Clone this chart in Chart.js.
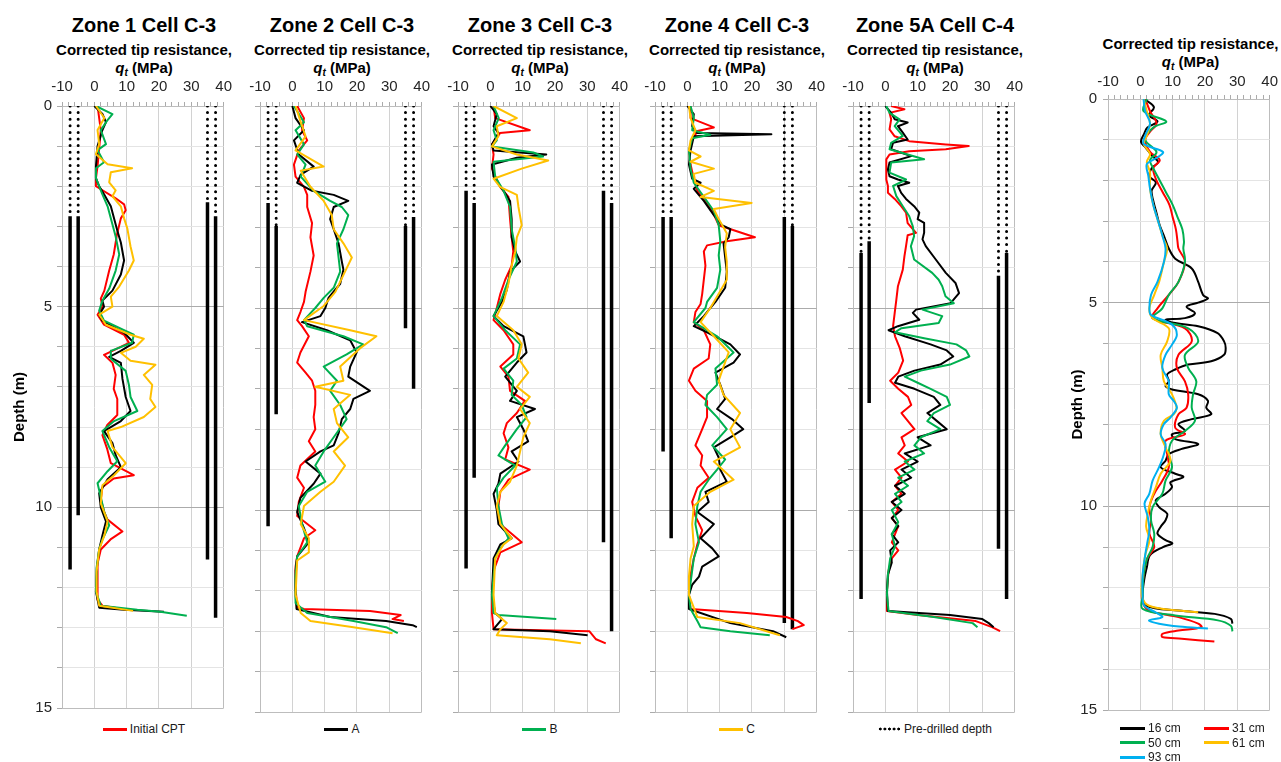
<!DOCTYPE html>
<html>
<head>
<meta charset="utf-8">
<title>CPT profiles</title>
<script src="https://cdn.jsdelivr.net/npm/chart.js@4.4.0/dist/chart.umd.min.js"></script>
<style>
  html, body { margin: 0; padding: 0; background: #fff; }
  body { font-family: "Liberation Sans", Arial, sans-serif; color: #000; }
  #page { position: relative; width: 1281px; height: 762px; overflow: hidden; background: #fff; }
  .abs { position: absolute; }
  .ttl { font-weight: bold; font-size: 20px; line-height: 24px; text-align: center; white-space: nowrap; }
  .axt { font-weight: bold; font-size: 15px; line-height: 18px; text-align: center; white-space: nowrap; }
  .axt sub { font-size: 10px; vertical-align: -3px; line-height: 0; }
  .leg { font-size: 12px; line-height: 14px; display: flex; justify-content: center; align-items: center; white-space: nowrap; color: #1a1a1a; }
  .sw { display: inline-block; width: 24px; height: 3px; margin-right: 3px; }
  .sw.dots { width: 23px; height: 4px; background: radial-gradient(circle, #000 1.3px, rgba(0,0,0,0) 1.7px) 0 0 / 4.6px 4px repeat-x; }
  .grid6 { display: grid; grid-template-columns: 84px 84px; row-gap: 0; font-size: 12px; line-height: 14.5px; color: #1a1a1a; }
  .grid6 span.it { display: flex; align-items: center; white-space: nowrap; }
  .grid6 .sw { width: 25px; margin-right: 3px; }
</style>
</head>
<body>
<div id="page"></div>
<script>
// ---------------- data: [depth (m), corrected tip resistance qt (MPa)] ----------------
const seriesNames = ['Initial CPT', 'A', 'B', 'C'];
const seriesColors = ['#FF0000', '#000000', '#00B050', '#FFC000'];
const zoneTitles = ['Zone 1 Cell C-3', 'Zone 2 Cell C-3', 'Zone 3 Cell C-3', 'Zone 4 Cell C-3', 'Zone 5A Cell C-4'];
const qtTicks = [-10, 0, 10, 20, 30, 40];
const depthTicks = [0, 5, 10, 15];

const z1Initial = [[0,1],[0.6,2],[1.5,1],[1.8,0.5],[2.0,0.5],[2.3,6.6],[2.45,9.2],[2.6,9.7],[2.8,8.2],[3.2,7],[3.7,6],[4.1,4.6],[4.6,3.1],[4.8,2],[5.0,2.5],[5.2,1],[5.45,3],[5.7,9.2],[5.9,10.7],[6.1,5.6],[6.2,3],[6.4,5.6],[6.7,6.6],[7.05,6],[7.3,7.1],[7.7,7.1],[7.95,4],[8.2,2.5],[8.55,4],[8.9,5.1],[9.2,12.2],[9.28,6],[9.5,2.5],[9.8,2],[10.1,3],[10.3,4],[10.6,8.7],[10.8,5],[11.05,2],[11.4,1],[11.9,1],[12.3,1],[12.45,2.5],[12.55,10.2]];
const z1A = [[0,0],[0.2,2.5],[0.4,3.6],[0.6,2.5],[1.0,1],[1.5,0.5],[1.8,0.5],[2.0,1.5],[2.2,3],[2.5,5.1],[3.1,7.1],[3.4,8.2],[3.85,9.2],[4.2,8.2],[4.6,5.6],[4.85,2.5],[5.0,3],[5.2,1.5],[5.35,2.5],[5.65,9.2],[5.9,12.2],[6.1,8.2],[6.25,4.6],[6.4,8.2],[6.8,8.7],[7.25,9.7],[7.6,11.2],[7.85,8.2],[8.1,3],[8.4,5.6],[8.7,6.6],[9.0,8.2],[9.3,4.1],[9.65,1.5],[10.0,2],[10.35,3.6],[10.7,2.5],[11.05,1.5],[11.5,0.8],[12.1,0.5],[12.5,1.5],[12.55,9.2],[12.6,21.5]];
const z1B = [[0,0.5],[0.2,5.6],[0.35,4.1],[0.6,2],[0.95,3.6],[1.1,1],[1.4,3],[1.55,0.5],[1.8,0.5],[2.2,2.5],[2.5,4.1],[3.25,6.6],[3.7,7.7],[4.1,6.6],[4.55,4.6],[4.85,2.5],[5.1,1.5],[5.35,3],[5.55,8.2],[5.7,12.2],[5.9,11.7],[6.1,5.1],[6.3,5.1],[6.6,9.7],[6.95,10.7],[7.25,11.2],[7.6,13.3],[7.85,6.1],[8.1,2.5],[8.5,4.6],[8.85,7.1],[9.1,4.1],[9.4,1],[9.75,2],[10.1,3],[10.45,4.6],[10.8,2.5],[11.05,1.5],[11.5,0.7],[12.1,0.5],[12.45,2],[12.55,13.3],[12.6,20.4],[12.7,28.6]];
const z1C = [[0,0.5],[0.3,3.1],[0.6,1],[0.95,1.5],[1.2,0.5],[1.45,4.1],[1.55,11.7],[1.65,5.1],[1.9,4.6],[2.1,6.6],[2.25,5.6],[2.5,8.2],[2.8,9.2],[3.05,10.2],[3.5,11.2],[3.85,12.2],[4.1,10.7],[4.5,7.7],[4.75,5.1],[5.0,5.6],[5.2,1.5],[5.45,3.6],[5.7,11.2],[5.8,15.3],[6.0,12.8],[6.15,8.2],[6.35,11.2],[6.45,18.9],[6.7,15.3],[6.95,17.9],[7.3,17.3],[7.5,18.9],[7.75,15.3],[8.0,8.2],[8.1,4.1],[8.5,5.6],[8.9,9.7],[9.2,6.1],[9.45,2.5],[9.9,2],[10.35,4.1],[10.7,3.1],[11.05,1.5],[11.6,0.7],[12.1,0.7],[12.45,1.5],[12.58,12]];

const z2Initial = [[0,1.5],[0.3,3.6],[0.6,3],[0.85,4.6],[1.1,2],[1.45,0.5],[1.75,1],[2.0,3.6],[2.2,4.6],[2.5,4.6],[2.9,6.1],[3.25,5.6],[3.7,6.6],[4.1,5.6],[4.6,4.1],[4.85,3.6],[5.1,2.5],[5.3,1.5],[5.45,3],[5.7,5.1],[6.1,2.5],[6.35,1.5],[6.6,4.1],[6.8,6.1],[7.05,7.1],[7.4,7.1],[7.7,6.6],[8.0,7.1],[8.3,5.1],[8.55,7.1],[8.9,2.5],[9.2,1.5],[9.45,3.6],[9.8,2],[10.15,1.5],[10.5,7.1],[10.7,3.6],[11.15,1.5],[11.4,1],[11.95,1],[12.4,1.5],[12.45,3.6],[12.5,24],[12.6,33.5],[12.7,31],[12.75,34.5]];
const z2A = [[0,0],[0.3,1],[0.6,3.6],[0.85,0.5],[1.2,2],[1.5,6.6],[1.7,2.6],[1.9,1.5],[2.1,6.1],[2.2,12.8],[2.35,17.3],[2.5,12.8],[2.8,11.7],[3.05,12.8],[3.4,14.3],[3.85,15.3],[4.05,15.8],[4.4,14.8],[4.75,11.2],[5.0,10.2],[5.2,8.7],[5.35,3],[5.55,10.7],[5.8,17.9],[6.1,19.9],[6.45,17.9],[6.7,17.3],[7.05,24],[7.25,18.9],[7.5,17.9],[7.75,15.3],[8.1,14.3],[8.4,12.8],[8.55,8.7],[8.8,4.1],[9.1,8.7],[9.35,6.6],[9.7,2.5],[10.05,1.5],[10.45,3.6],[10.8,5.1],[11.15,1.5],[11.5,1],[12.1,1],[12.45,1.3],[12.65,11.7],[12.75,29],[12.85,37.2],[12.9,38.5]];
const z2B = [[0,0.5],[0.4,3.6],[0.6,1],[0.95,3.6],[1.2,1.5],[1.45,4.1],[1.75,2.6],[2.1,6.6],[2.35,11.7],[2.5,15.3],[2.7,17.3],[3.05,15.8],[3.4,13.8],[3.75,14.3],[4.1,14.8],[4.5,12.8],[4.75,9.7],[5.0,7.1],[5.3,3.6],[5.45,4.6],[5.7,15.8],[5.9,21.9],[6.15,16.8],[6.45,9.7],[6.8,13.8],[7.05,11.7],[7.4,14.8],[7.75,16.8],[8.2,12.8],[8.55,9.7],[8.9,7.1],[9.3,10.2],[9.55,4.6],[9.9,2],[10.35,3],[10.8,4.6],[11.15,1.5],[11.65,1],[12.3,1],[12.55,4.6],[12.75,18.9],[12.9,29],[13.05,32.6]];
const z2C = [[0,1],[0.4,2.6],[0.75,4.1],[1.1,1],[1.5,9.7],[1.6,2.6],[2.0,5.6],[2.35,9.7],[2.7,12.2],[3.05,12.8],[3.4,15.8],[3.75,18.4],[4.1,16.3],[4.6,13.3],[4.95,9.7],[5.3,3.6],[5.55,17.9],[5.7,26],[6.0,20.9],[6.45,14.8],[6.8,15.8],[6.95,7.1],[7.15,17.9],[7.5,12.8],[7.85,13.8],[8.2,17.3],[8.55,12.8],[8.9,16.3],[9.3,12.8],[9.55,8.7],[9.9,3.6],[10.35,2.6],[10.7,5.1],[11.05,5.1],[11.25,1.5],[12.1,1],[12.55,2.6],[12.75,5.6],[12.9,18.9],[13.05,31]];

const z3Initial = [[0,1],[0.3,1.5],[0.6,12.2],[0.67,3],[0.95,0.5],[1.2,1],[1.55,0.5],[2.0,3],[2.25,5.6],[2.8,6.1],[3.25,6.6],[3.6,7.1],[3.95,6.6],[4.3,4.6],[4.65,3.1],[5.0,2],[5.3,1],[5.55,4.1],[5.9,7.1],[6.15,7.1],[6.45,3.1],[6.7,5.6],[7.05,6.1],[7.3,10.7],[7.6,8.2],[7.85,5.1],[8.1,4.1],[8.45,5.6],[8.75,4.6],[9.0,12.2],[9.25,5.6],[9.55,3.1],[9.9,2.5],[10.35,3.1],[10.8,9.7],[11.05,3.1],[11.5,1],[12.1,0.5],[12.55,0.5],[12.95,1],[13.0,30.6],[13.2,32.7],[13.3,35.7]];
const z3A = [[0,0],[0.2,2],[0.5,1],[0.67,2.5],[0.95,0.5],[1.1,1],[1.2,17.3],[1.28,8.2],[1.45,0.5],[1.75,1],[2.1,4.1],[2.35,6.1],[2.8,6.6],[3.25,6.6],[3.6,7.7],[3.85,9.2],[4.1,6.1],[4.55,5.1],[4.85,3.6],[5.2,1],[5.45,4.1],[5.7,10.2],[6.1,11.2],[6.35,8.2],[6.7,4.6],[7.05,8.2],[7.3,6.1],[7.5,13.8],[7.7,8.2],[8.0,10.2],[8.3,11.7],[8.55,6.6],[8.8,8.7],[9.1,3.1],[9.35,2.5],[9.6,1],[10.0,2],[10.35,2.5],[10.7,6.6],[10.85,3.1],[11.2,1],[12.1,0.5],[12.55,1.5],[12.7,3.6],[12.95,1],[13.0,18.4],[13.1,30.1]];
const z3B = [[0,1],[0.3,2.6],[0.6,1],[0.85,2],[1.0,0.5],[1.15,13.3],[1.25,16.3],[1.38,1],[1.75,1.5],[2.1,4.1],[2.5,6.1],[3.05,6.6],[3.5,7.7],[3.85,8.2],[4.3,5.6],[4.75,3.6],[5.2,1],[5.55,4.6],[5.9,9.2],[6.25,8.2],[6.5,4.1],[6.8,7.1],[7.15,6.6],[7.4,9.7],[7.7,11.2],[8.0,8.2],[8.4,4.6],[8.65,2.5],[8.9,7.7],[9.2,4.1],[9.45,2],[9.9,2.5],[10.35,3.6],[10.7,5.6],[10.95,3.1],[11.2,1.5],[12.1,0.5],[12.55,1],[12.6,2.5],[12.7,20.4]];
const z3C = [[0,1],[0.3,8.2],[0.5,2],[0.75,2.5],[1.0,0.5],[1.2,8.2],[1.35,17.9],[1.55,9.7],[1.8,1],[2.0,3],[2.2,8.2],[2.5,8.7],[2.95,9.7],[3.25,8.2],[3.6,7.7],[3.95,6.6],[4.4,5.6],[4.85,4.1],[5.2,2],[5.55,7.1],[5.9,9.7],[6.25,8.7],[6.6,11.7],[6.95,8.2],[7.2,12.2],[7.5,9.2],[7.85,12.2],[8.2,10.2],[8.55,9.2],[8.9,8.2],[9.3,6.1],[9.55,3.1],[9.9,2],[10.35,3.1],[10.7,6.6],[10.85,4.1],[11.2,1.5],[12.1,1],[12.55,1.5],[12.8,5.1],[12.95,3.1],[13.1,2],[13.2,18.4],[13.3,28]];

const z4Initial = [[0,1],[0.3,1],[0.53,8.2],[0.62,3.1],[0.85,1.5],[1.1,0.5],[1.45,1],[1.8,2],[2.1,3.1],[2.35,5.6],[2.6,7.7],[2.95,9.7],[3.25,20.9],[3.35,12.2],[3.45,6.1],[3.6,5.1],[3.95,5.6],[4.3,5.1],[4.65,4.6],[4.9,4.1],[5.1,2.5],[5.35,2],[5.55,5.1],[5.9,7.1],[6.25,6.6],[6.5,2],[6.8,0.5],[7.05,2.5],[7.3,6.1],[7.7,6.1],[8.0,4.6],[8.4,2.5],[8.65,4.6],[8.9,4.1],[9.2,6.6],[9.45,3.1],[9.8,1.5],[10.15,2.5],[10.5,4.6],[10.85,3.1],[11.2,2],[11.6,1],[12.1,0.5],[12.45,1],[12.55,18.4],[12.65,30.6],[12.75,34.2],[12.85,36],[12.95,32.5]];
const z4A = [[0,0],[0.2,2],[0.5,1.5],[0.67,3.1],[0.7,26],[0.75,2],[1.1,1],[1.45,0.5],[1.8,1.5],[1.9,4.1],[2.05,2],[2.35,5.1],[2.7,8.2],[2.95,10.7],[3.05,13.3],[3.25,12.8],[3.4,11.2],[3.75,11.7],[4.1,12.2],[4.5,11.7],[4.85,8.7],[5.0,7.1],[5.2,5.1],[5.45,2],[5.6,6.1],[5.9,13.3],[6.15,16.3],[6.35,14.3],[6.6,8.7],[6.9,10.2],[7.25,11.7],[7.5,9.2],[7.75,13.8],[8.0,17.3],[8.2,13.3],[8.45,8.2],[8.7,9.7],[9.0,10.2],[9.3,12.2],[9.55,5.6],[9.8,6.6],[10.05,3.1],[10.35,8.2],[10.7,4.1],[10.95,7.7],[11.15,9.7],[11.4,4.6],[11.65,3.6],[11.85,1.5],[12.1,0.5],[12.45,0.5],[12.8,13.3],[13.0,26.5],[13.15,30.6]];
const z4B = [[0,1],[0.3,2],[0.6,1.5],[0.71,7.1],[0.8,1.5],[1.1,0.5],[1.55,1],[1.9,2],[2.25,5.1],[2.6,8.2],[2.95,9.7],[3.35,10.2],[3.7,9.7],[4.05,10.2],[4.5,9.2],[4.85,6.1],[5.0,5.6],[5.35,2],[5.7,9.2],[6.1,14.3],[6.5,8.7],[6.9,9.2],[7.15,6.1],[7.4,5.6],[7.7,9.2],[8.0,12.2],[8.4,7.7],[8.75,11.7],[9.0,9.2],[9.25,6.6],[9.55,4.1],[9.9,3.1],[10.35,2.5],[10.8,3.6],[11.2,2],[12.1,0.5],[12.45,1],[12.75,3.1],[12.9,4.1],[13.0,13.3],[13.1,25.5]];
const z4C = [[0,0.5],[0.3,1],[0.6,2.5],[0.85,1],[1.1,0.5],[1.25,4.1],[1.38,1],[1.55,8.2],[1.68,2],[1.9,2.5],[2.1,8.2],[2.25,4.1],[2.4,19.9],[2.55,8.2],[2.8,9.7],[3.15,12.2],[3.5,11.7],[3.85,12.2],[4.3,12.2],[4.65,9.7],[5.0,7.1],[5.35,4.1],[5.7,8.2],[6.1,12.8],[6.45,11.2],[6.8,9.7],[7.15,11.2],[7.6,16.3],[8.0,13.3],[8.45,16.3],[8.8,8.2],[9.25,14.3],[9.55,7.1],[9.9,2],[10.35,1.5],[10.9,2],[11.2,1],[11.65,0.5],[12.1,0.5],[12.65,3.1],[12.8,16.3],[13.0,24.5],[13.1,28.6]];

const z5Initial = [[0,1.8],[0.08,5.9],[0.17,1.3],[0.33,1.8],[0.58,1.3],[0.75,2.9],[0.87,7.4],[0.95,18.7],[0.99,25.8],[1.07,18.7],[1.12,7.4],[1.2,1.3],[1.32,0.3],[1.82,0.3],[1.98,0.8],[2.15,0.8],[2.3,2.9],[2.48,4.9],[2.64,6.4],[2.9,6.9],[3.14,9.5],[3.2,6.9],[3.47,6.4],[3.72,5.9],[4.05,5.4],[4.46,3.9],[4.8,3.4],[5.12,2.9],[5.45,2.4],[5.7,3],[6.0,4.5],[6.3,5.5],[6.6,4],[6.8,1.5],[7.0,4],[7.2,7],[7.4,8],[7.6,5],[7.8,7],[8.0,9],[8.2,5],[8.4,6],[8.6,4],[8.8,7],[9.0,3],[9.2,5],[9.4,3],[9.6,5],[9.8,2],[10.0,4],[10.2,2],[10.4,4],[10.6,3],[10.8,2],[11.0,4],[11.2,2],[11.5,1],[12.0,0.5],[12.5,0.5],[12.6,10],[12.75,28],[12.9,33],[13.0,35.5]];
const z5A = [[0,0],[0.17,1.8],[0.33,2.9],[0.41,6.9],[0.5,3.9],[0.66,5.4],[0.83,6.9],[0.91,2.4],[1.07,1.8],[1.24,8],[1.4,1.3],[1.57,0.8],[1.74,1.3],[1.82,3.9],[1.9,7.4],[1.98,3.9],[2.15,4.9],[2.3,6.4],[2.48,8.9],[2.64,10.5],[2.8,10],[2.89,12],[3.14,12],[3.3,11.5],[3.47,12.5],[3.8,15.6],[4.13,18.7],[4.38,21.7],[4.63,22.8],[4.88,20.2],[5.04,9.5],[5.12,8.5],[5.29,10.5],[5.45,3.9],[5.55,1],[5.7,6],[5.9,14],[6.05,19],[6.2,21],[6.4,17],[6.55,9],[6.7,4],[6.85,3],[7.0,9],[7.2,15],[7.4,17],[7.6,13],[7.8,16],[8.0,19],[8.2,10],[8.4,14],[8.6,6],[8.8,10],[9.0,5],[9.2,8],[9.4,3],[9.6,6],[9.8,2],[10.0,5],[10.2,2],[10.4,4],[10.6,2],[10.8,4],[11.0,1.5],[11.3,2],[11.6,0.8],[12.0,0.5],[12.5,0.8],[12.6,20],[12.7,30],[12.8,32],[12.9,33.5]];
const z5B = [[0,0.3],[0.17,1.3],[0.33,4.4],[0.5,2.9],[0.74,5.4],[0.91,1.8],[1.07,1.3],[1.32,12],[1.4,1.8],[1.65,1.3],[1.82,6.4],[1.98,2.4],[2.23,3.4],[2.48,5.4],[2.73,7.4],[2.98,8.5],[3.22,8.9],[3.47,7.9],[3.8,8.9],[4.13,14.5],[4.3,16.5],[4.46,17.6],[4.71,18.6],[4.88,21.2],[5.04,11.5],[5.2,17.6],[5.37,16.5],[5.5,5],[5.6,3],[5.75,12],[5.9,22],[6.05,25],[6.2,26],[6.4,20],[6.55,11],[6.7,6],[6.85,10],[7.0,14],[7.2,19],[7.4,20],[7.6,15],[7.8,13],[8.0,17],[8.2,11],[8.4,9],[8.6,12],[8.8,6],[9.0,9],[9.2,4],[9.4,7],[9.6,3],[9.8,5],[10.0,2],[10.3,4],[10.6,2],[10.9,3],[11.2,1.5],[11.6,0.8],[12.1,0.5],[12.5,1],[12.65,15],[12.8,27],[12.9,28.5]];
const z5C = [];

// pre-drilled markers: [qt position, pre-drilled depth, bottom of solid bar]
const z1Predrill = [[-7.5,2.75,11.55],[-5,2.75,10.2],[35,2.4,11.3],[37.5,2.75,12.75]];
const z2Predrill = [[-7.5,2.4,10.4],[-5,2.97,7.63],[35,2.97,5.5],[37.5,2.75,7.0]];
const z3Predrill = [[-7.5,2.1,11.45],[-5,2.4,9.2],[35,2.1,10.8],[37.5,2.4,13.0]];
const z4Predrill = [[-7.5,2.75,8.55],[-5,2.75,10.7],[30,2.75,12.8],[32.5,2.97,12.95]];
const z5Predrill = [[-7.5,3.64,12.2],[-5,3.35,7.35],[35,4.2,10.96],[37.5,3.64,12.2]];

// right-hand profile: tip resistance at several offsets
const offsetNames = ['16 cm', '31 cm', '50 cm', '61 cm', '93 cm'];
const offsetColors = ['#000000', '#FF0000', '#00B050', '#FFC000', '#00B0F0'];
const off16 = [[0,1.2],[0.2,4.2],[0.4,2.7],[0.55,5.3],[0.7,2.2],[0.85,1.2],[1.05,0.2],[1.2,1.7],[1.4,3.7],[1.55,5.5],[1.7,3.5],[1.9,2.8],[2.05,4.8],[2.25,3.5],[2.5,4],[2.8,5],[3.1,6],[3.4,7.5],[3.67,8.8],[3.92,10.8],[4.16,15.9],[4.49,17.9],[4.81,19.4],[4.9,20.9],[5.0,17.9],[5.1,14.3],[5.26,16.9],[5.38,13.8],[5.42,7.8],[5.5,10.8],[5.58,17.9],[5.75,23.9],[5.95,25.9],[6.11,26.4],[6.28,25.9],[6.44,21.9],[6.52,14.8],[6.64,10.8],[6.76,8.3],[6.93,8.8],[7.05,7.8],[7.13,9.8],[7.25,17.9],[7.41,20.9],[7.58,20.4],[7.74,21.9],[7.86,15.9],[7.98,11.8],[8.15,13.8],[8.23,9.8],[8.35,10.8],[8.47,17.9],[8.59,12.8],[8.72,8.8],[8.88,7.8],[9.04,6.3],[9.2,10.8],[9.28,13.3],[9.41,9.3],[9.53,9.8],[9.69,7.8],[9.85,4.8],[10.02,5.8],[10.18,8.3],[10.34,7.8],[10.5,6.3],[10.67,5.3],[10.83,7.8],[10.91,9.9],[11.0,7],[11.2,3],[11.5,2],[11.8,1.2],[12.2,0.7],[12.44,1.7],[12.56,11.8],[12.64,23],[12.76,28],[12.88,28.5]];
const off31 = [[0,1.5],[0.3,3],[0.6,5],[0.8,3],[1.0,1.5],[1.3,3],[1.5,6],[1.7,4],[2.0,5],[2.3,7],[2.6,9],[2.9,10],[3.2,11],[3.5,11.5],[3.67,11.8],[4.0,13.8],[4.49,11.8],[4.81,8.8],[5.14,5.3],[5.38,3.8],[5.63,13.8],[5.95,15.9],[6.28,11.8],[6.6,11.3],[6.93,13.8],[7.25,14.8],[7.58,14.3],[7.74,11.8],[8.07,10.8],[8.23,13.8],[8.39,7.8],[8.72,8.3],[9.04,8.8],[9.37,6.8],[9.69,4.3],[10.02,2.8],[10.34,3.3],[10.67,2.8],[10.99,4.3],[11.3,2],[11.7,1],[12.1,0.5],[12.36,0.7],[12.56,2.7],[12.72,11.8],[12.88,17.9],[12.97,18.9],[13.05,11.8],[13.13,6.8],[13.21,6.8],[13.25,12.8],[13.32,22.9]];
const off50 = [[0,2],[0.3,1],[0.55,8],[0.7,4],[1.0,1.5],[1.3,5],[1.5,3],[1.7,4],[2.0,6],[2.3,8],[2.6,10],[2.9,11.5],[3.2,13],[3.5,13.5],[3.67,13.3],[4.0,13.8],[4.49,11.8],[4.81,8.8],[5.14,6.8],[5.38,3.8],[5.63,14.8],[5.95,17.9],[6.28,13.8],[6.6,14.8],[6.93,17.3],[7.25,16.3],[7.58,15.9],[7.9,16.9],[8.15,13.8],[8.39,9.8],[8.72,8.8],[9.04,9.8],[9.37,7.8],[9.69,6.8],[10.02,3.8],[10.34,3.3],[10.67,4.3],[10.99,3.8],[11.3,2],[11.7,1],[12.2,0.7],[12.52,0.7],[12.68,10.8],[12.8,24],[12.93,28],[13.07,28.5]];
const off61 = [[0,1],[0.3,2],[0.6,3],[0.9,2],[1.1,1],[1.35,3],[1.55,2],[1.8,3],[2.2,3],[2.6,4],[3.0,5.5],[3.4,7],[3.67,8.3],[4.0,7.3],[4.49,5.8],[4.81,4.3],[5.14,2.8],[5.38,3.8],[5.63,8.8],[5.95,8.3],[6.28,6.3],[6.6,6.8],[6.93,7.3],[7.25,9.8],[7.58,11.2],[7.74,10.3],[7.9,7.3],[8.23,6.3],[8.55,7.8],[8.88,9.3],[9.2,6.3],[9.53,4.8],[9.85,3.3],[10.18,2.3],[10.5,1.8],[10.83,2.8],[11.2,1.5],[11.7,0.7],[12.2,0.5],[12.44,2.7],[12.56,11.8],[12.6,17.9]];
const off93 = [[0,1],[0.3,1.5],[0.6,3],[0.9,1.5],[1.1,1],[1.3,7],[1.45,5],[1.6,2],[1.9,2.5],[2.2,3],[2.6,4],[3.0,5.5],[3.4,7],[3.67,7.8],[4.0,7.3],[4.49,5.3],[4.81,3.3],[5.14,2.8],[5.3,3.3],[5.54,9.8],[5.79,11.3],[6.03,9.8],[6.28,7.8],[6.6,6.8],[6.93,8.8],[7.25,8.8],[7.41,10.3],[7.58,11.3],[7.82,9.3],[7.98,7.3],[8.23,6.3],[8.47,7.8],[8.72,7.3],[9.04,5.8],[9.37,3.8],[9.69,2.8],[9.93,1.3],[10.26,2.3],[10.59,2.8],[10.83,2.3],[11.2,1.5],[11.7,0.7],[12.2,0.7],[12.44,1.2],[12.6,4.7],[12.72,6.8],[12.8,2.7],[12.88,5.8],[12.95,12],[13.0,20.9]];

// ---------------- layout ----------------
const FONT = '"Liberation Sans", Arial, sans-serif';
Chart.defaults.font.family = FONT;
const page = document.getElementById('page');

const zoneSeries = [
  [z1Initial, z1A, z1B, z1C],
  [z2Initial, z2A, z2B, z2C],
  [z3Initial, z3A, z3B, z3C],
  [z4Initial, z4A, z4B, z4C],
  [z5Initial, z5A, z5B, z5C]
];
const zonePredrill = [z1Predrill, z2Predrill, z3Predrill, z4Predrill, z5Predrill];

const plotLefts = [62, 260, 458, 655, 853];
const PLOT_W = 164, PLOT_TOP = 106, PLOT_BOTTOM = 712;

function el(tag, cls, style, html) {
  const e = document.createElement(tag);
  if (cls) e.className = cls;
  Object.assign(e.style, style || {});
  if (html !== undefined) e.innerHTML = html;
  page.appendChild(e);
  return e;
}

const qtTitleHTML = 'Corrected tip resistance,<br><i>q<sub>t</sub></i> (MPa)';

function toPoints(pairs) { return pairs.map(p => ({ x: p[1], y: p[0] })); }

function gridColorY(ctx) {
  const v = ctx.tick ? ctx.tick.value : null;
  if (v === 0 || v === 15) return '#BDBDBD';
  if (v === 5 || v === 10) return '#ABABAB';
  return '#E4E4E4';
}
function gridColorX(ctx) {
  const v = ctx.tick ? ctx.tick.value : null;
  if (v === -10 || v === 40) return '#BDBDBD';
  if (v !== null && qtTicks.includes(v)) return '#D2D2D2';
  return 'rgba(0,0,0,0)';
}

function buildChart(canvas, datasets, o) {
  return new Chart(canvas, {
    type: 'scatter',
    data: { datasets },
    options: {
      responsive: false,
      animation: false,
      events: [],
      layout: { padding: { left: o.padL, right: o.padR, top: 0, bottom: 10 } },
      plugins: { legend: { display: false }, tooltip: { enabled: false } },
      elements: { point: { radius: 0, hoverRadius: 0 }, line: { tension: o.tension } },
      scales: {
        x: {
          type: 'linear', position: 'top', min: -10, max: 40,
          afterFit: s => { s.height = o.xh; },
          ticks: {
            stepSize: 2, autoSkip: false, maxRotation: 0, padding: o.xPad,
            color: '#262626', font: { size: 15, family: FONT },
            callback: v => (qtTicks.includes(v) ? String(v) : '')
          },
          grid: { color: gridColorX, tickColor: '#ABABAB', tickLength: 4, lineWidth: 1 },
          border: { color: '#BDBDBD' }
        },
        y: {
          type: 'linear', reverse: true, min: 0, max: 15,
          afterFit: s => { s.width = o.yw; },
          ticks: {
            stepSize: 1, autoSkip: false, display: o.yLabels, padding: o.yPad,
            color: '#262626', font: { size: 15, family: FONT },
            callback: v => (depthTicks.includes(v) ? String(v) : '')
          },
          grid: { color: gridColorY, tickColor: '#ABABAB', tickLength: 5, lineWidth: 1 },
          border: { color: '#BDBDBD' },
          title: {
            display: o.yLabels, text: 'Depth (m)', color: '#000',
            font: { size: 15, weight: 'bold', family: FONT },
            padding: { top: o.titlePad, bottom: 0 }
          }
        }
      }
    }
  });
}

// ---------------- zone panels ----------------
zoneTitles.forEach((title, i) => {
  const left = plotLefts[i];
  const cx = left + PLOT_W / 2;
  el('div', 'abs ttl', { left: (cx - 120) + 'px', top: '13px', width: '240px' }, title);
  el('div', 'abs axt', { left: (cx - 120) + 'px', top: '41px', width: '240px' }, qtTitleHTML);

  const first = i === 0;
  const yw = first ? 62 : 4;
  const padL = first ? 0 : 14;
  const padR = 12;
  const cLeft = left - yw - padL;
  const cTop = PLOT_TOP - 28;
  const cW = padL + yw + PLOT_W + padR;
  const cH = PLOT_BOTTOM - cTop + 10;
  const cv = el('canvas', 'abs', { left: cLeft + 'px', top: cTop + 'px', width: cW + 'px', height: cH + 'px' });
  cv.width = cW; cv.height = cH;

  const datasets = [];
  zoneSeries[i].forEach((s, k) => {
    if (!s.length) return;
    datasets.push({
      label: seriesNames[k], data: toPoints(s), showLine: true,
      borderColor: seriesColors[k], backgroundColor: seriesColors[k],
      borderWidth: 2, order: 10 - k, borderJoinStyle: 'round'
    });
  });
  zonePredrill[i].forEach(m => {
    datasets.push({
      label: 'Pre-drilled depth', data: toPoints([[0, m[0]], [m[1], m[0]]]), showLine: true,
      borderColor: '#000', borderWidth: 3, borderDash: [0, 6.6], borderCapStyle: 'round', order: 20
    });
    datasets.push({
      label: 'bar', data: toPoints([[m[1], m[0]], [m[2], m[0]]]), showLine: true,
      borderColor: '#000', borderWidth: 3.5, order: 20
    });
  });

  buildChart(cv, datasets, { padL, padR, yw, xh: 28, xPad: 6, yPad: 5, yLabels: first, titlePad: 11, tension: 0 });

  // one legend entry under each panel
  const leg = el('div', 'abs leg', { left: left + 'px', top: '722px', width: PLOT_W + 'px' });
  if (i < 4) {
    leg.innerHTML = '<span class="sw" style="background:' + seriesColors[i] + '"></span>' + seriesNames[i];
  } else {
    leg.innerHTML = '<span class="sw dots"></span>Pre-drilled depth';
  }
});

// ---------------- offset profile panel ----------------
(function () {
  const left = 1108, top = 99, bottom = 715, w = 165;
  const cx = left + w / 2;
  el('div', 'abs axt', { left: (cx - 120) + 'px', top: '35px', width: '240px' }, qtTitleHTML);
  const yw = 49, padL = 0, padR = 9;
  const cLeft = left - yw - padL, cTop = top - 28;
  const cW = padL + yw + w + padR, cH = bottom - cTop + 10;
  const cv = el('canvas', 'abs', { left: cLeft + 'px', top: cTop + 'px', width: cW + 'px', height: cH + 'px' });
  cv.width = cW; cv.height = cH;
  const series = [off16, off31, off50, off61, off93];
  const datasets = series.map((s, k) => ({
    label: offsetNames[k], data: toPoints(s), showLine: true,
    borderColor: offsetColors[k], backgroundColor: offsetColors[k],
    borderWidth: 2, order: 10 - k, borderJoinStyle: 'round'
  }));
  buildChart(cv, datasets, { padL, padR, yw, xh: 28, xPad: 4, yPad: 6, yLabels: true, titlePad: 10, tension: 0.35 });

  const g = el('div', 'abs grid6', { left: '1120px', top: '721px' });
  g.innerHTML = offsetNames.map((n, k) =>
    '<span class="it"><span class="sw" style="background:' + offsetColors[k] + '"></span>' + n + '</span>').join('');
})();
</script>
</body>
</html>
